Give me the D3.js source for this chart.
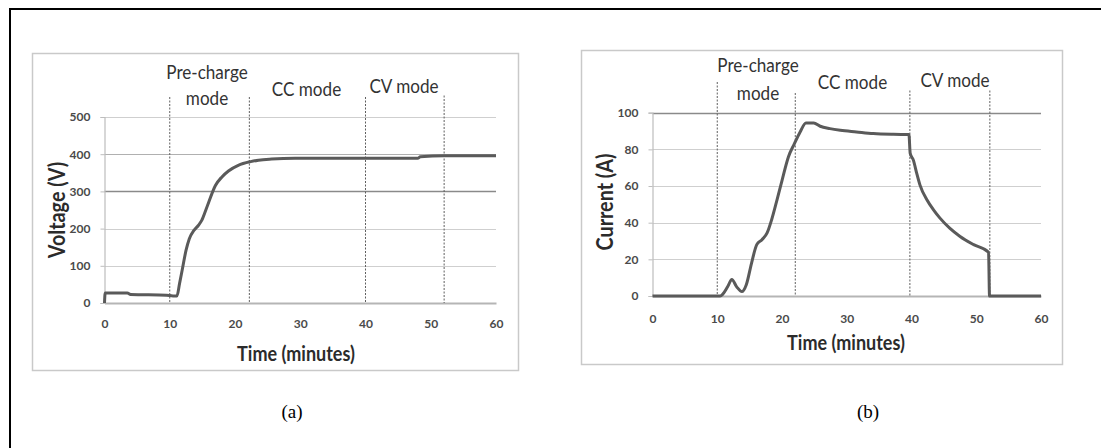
<!DOCTYPE html>
<html>
<head>
<meta charset="utf-8">
<script src="https://cdn.jsdelivr.net/npm/d3@7"></script>
<style>
  html, body { margin: 0; padding: 0; background: #fff; }
  svg { display: block; }
</style>
</head>
<body>
<svg id="fig" width="1101" height="448"></svg>
<script>
// Charging profile: time in minutes
const voltageTime  = [0, 0.1, 3.5, 4, 9.5, 10.5, 11.1, 11.5, 11.9, 12.5, 13.0, 13.7, 14.4, 14.9, 15.7, 17.0, 18.0, 19.0, 20.5, 22.4, 23.6, 25.6, 29.2, 39.9, 48.0, 48.4, 52.1, 60];
const voltageValue = [0, 27, 27, 23, 21, 19, 19, 52, 88, 142, 173, 195, 209, 222, 258, 316, 339, 355, 370, 380, 384, 387, 389, 389, 389, 393, 396, 396];

const currentTime  = [0, 10.45, 10.86, 11.6, 12.25, 13.0, 13.8, 14.5, 15.3, 16.1, 16.9, 17.7, 18.4, 19.2, 20.0, 21.0, 21.9, 22.8, 23.7, 24.9, 25.9, 27.4, 29.0, 31.5, 34.1, 37.2, 39.6, 39.8, 40.3, 40.8, 41.3, 42.4, 43.4, 44.4, 45.9, 47.5, 49.6, 51.9, 52.05, 60];
const currentValue = [0, 0, 1, 5, 9, 5, 2.4, 6.3, 18, 28, 30.7, 34.4, 41.6, 52, 63, 76, 83, 89.5, 94.4, 94.4, 92.6, 91.3, 90.4, 89.5, 88.6, 88.2, 88.1, 77.8, 74, 67, 60.6, 52.4, 47, 42.5, 37, 32.5, 28, 23.9, 0, 0];

const timeTicks    = [0, 10, 20, 30, 40, 50, 60];
const voltageTicks = [0, 100, 200, 300, 400, 500];
const currentTicks = [0, 20, 40, 60, 80, 100];

// Boundaries between the charging stages
const voltageStages = [10, 22.2, 40, 52.05];
const currentStages = [10, 22.05, 39.75, 52.1];
const stageNames = ["Pre-charge|mode", "CC mode", "CV mode"];

const svg = d3.select("#fig");
const sans = "Lato, 'Open Sans', sans-serif";
const narrow = 0.9; // horizontal squeeze for the label font

// outer frame (only top and left edges fall inside the canvas)
svg.append("path")
  .attr("d", "M10,1101 L10,9 L1101,9")
  .attr("fill", "none").attr("stroke", "#000").attr("stroke-width", 2);

function panel(cfg) {
  const g = svg.append("g");
  // chart area border
  g.append("rect")
    .attr("x", cfg.box[0]).attr("y", cfg.box[1])
    .attr("width", cfg.box[2] - cfg.box[0]).attr("height", cfg.box[3] - cfg.box[1])
    .attr("fill", "#fff").attr("stroke", "#c9c9c9").attr("stroke-width", 1.5);

  const x = d3.scaleLinear().domain([0, 60]).range([cfg.plot.x0, cfg.plot.x1]);
  const y = d3.scaleLinear().domain([0, cfg.yMax]).range([cfg.plot.y0, cfg.plot.y1]);

  // horizontal gridlines
  g.selectAll("line.grid").data(cfg.yTicks.filter(d => d > 0)).join("line")
    .attr("x1", x(0)).attr("x2", x(60))
    .attr("y1", d => Math.round(y(d)) + 0.5).attr("y2", d => Math.round(y(d)) + 0.5)
    .attr("stroke", d => cfg.darkGrid.includes(d) ? "#8a8a8a" : (cfg.midGrid.includes(d) ? "#b0b0b0" : "#cfcfcf"))
    .attr("stroke-width", d => cfg.darkGrid.includes(d) ? 1.5 : 1.2);

  // y axis with outside ticks
  const yAxis = d3.axisLeft(y).tickValues(cfg.yTicks).tickSize(4).tickPadding(10);
  const ya = g.append("g").attr("transform", `translate(${x(0)},0)`).call(yAxis);
  ya.select(".domain").attr("stroke", "#bdbdbd").attr("stroke-width", 1.2);
  ya.selectAll(".tick line").attr("stroke", "#bdbdbd");
  ya.selectAll(".tick text").attr("font-family", sans).attr("font-size", 12)
    .attr("font-weight", 700).attr("fill", "#4a4a4a");

  // x axis, no tick marks
  const xAxis = d3.axisBottom(x).tickValues(timeTicks).tickSize(0).tickPadding(cfg.xPad);
  const xa = g.append("g").attr("transform", `translate(0,${y(0)})`).call(xAxis);
  xa.select(".domain").attr("stroke", "#b5b5b5").attr("stroke-width", 2);
  xa.selectAll(".tick text").attr("font-family", sans).attr("font-size", 12)
    .attr("font-weight", 700).attr("fill", "#4a4a4a");

  // stage separators
  g.selectAll("line.stage").data(cfg.stages).join("line")
    .attr("x1", d => x(d)).attr("x2", d => x(d))
    .attr("y1", (d, i) => cfg.stageTop[i]).attr("y2", y(0))
    .attr("stroke", "#5f5f5f").attr("stroke-width", 1).attr("stroke-dasharray", "2,1.5");

  // stage labels
  stageNames.forEach((name, i) => {
    const lines = name.split("|");
    const t = g.append("text").attr("text-anchor", "middle")
      .attr("transform", `translate(${cfg.labels[i][0]},${cfg.labels[i][1]}) scale(${narrow},1)`)
      .attr("font-family", sans).attr("font-size", 19).attr("fill", "#333");
    lines.forEach((ln, k) => {
      t.append("tspan").attr("x", 0).attr("y", k * cfg.lineGap).text(ln);
    });
  });

  // data line
  const pts = cfg.t.map((tt, i) => [tt, cfg.v[i]]);
  g.append("path").datum(pts)
    .attr("d", d3.line().x(d => x(d[0])).y(d => y(d[1])).curve(d3.curveMonotoneX))
    .attr("fill", "none").attr("stroke", "#5a5a5a").attr("stroke-width", 3)
    .attr("stroke-linejoin", "round");

  // axis titles
  g.append("text").attr("text-anchor", "middle")
    .attr("transform", `translate(${cfg.yTitle[0]},${cfg.yTitle[1]}) rotate(-90) scale(${narrow},1)`)
    .attr("dy", "0.35em")
    .attr("font-family", sans).attr("font-size", 22).attr("font-weight", 700).attr("fill", "#2b2b2b")
    .text(cfg.yLabel);
  g.append("text").attr("text-anchor", "middle")
    .attr("transform", `translate(${cfg.xTitle[0]},${cfg.xTitle[1]}) scale(${narrow},1)`)
    .attr("font-family", sans).attr("font-size", 20).attr("font-weight", 700).attr("fill", "#2b2b2b")
    .text("Time (minutes)");

  // panel caption
  g.append("text").attr("text-anchor", "middle")
    .attr("x", cfg.caption[0]).attr("y", cfg.caption[1])
    .attr("font-family", "'Liberation Serif', 'Times New Roman', serif").attr("font-size", 19).attr("fill", "#000")
    .text(cfg.captionText);
}

panel({
  box: [32.5, 53.5, 518.5, 370.5],
  plot: { x0: 104.5, x1: 496, y0: 303, y1: 117 },
  yMax: 500, yTicks: voltageTicks, darkGrid: [300], midGrid: [400],
  xPad: 16,
  stages: voltageStages, stageTop: [97, 97, 97, 95.5],
  labels: [[207, 79], [306.5, 95.5], [404, 93.2]], lineGap: 26.5,
  t: voltageTime, v: voltageValue,
  yLabel: "Voltage (V)", yTitle: [57, 210],
  xTitle: [296, 361],
  caption: [292, 418], captionText: "(a)"
});

panel({
  box: [581.5, 50.5, 1062.5, 364.5],
  plot: { x0: 652.5, x1: 1041, y0: 296, y1: 112.7 },
  yMax: 100, yTicks: currentTicks, darkGrid: [100], midGrid: [],
  xPad: 18,
  stages: currentStages, stageTop: [82, 93, 90.5, 90.5],
  labels: [[758, 72.3], [852.5, 88.9], [955, 87.2]], lineGap: 27.6,
  t: currentTime, v: currentValue,
  yLabel: "Current (A)", yTitle: [605, 202],
  xTitle: [846, 350],
  caption: [868, 418], captionText: "(b)"
});
</script>
</body>
</html>
